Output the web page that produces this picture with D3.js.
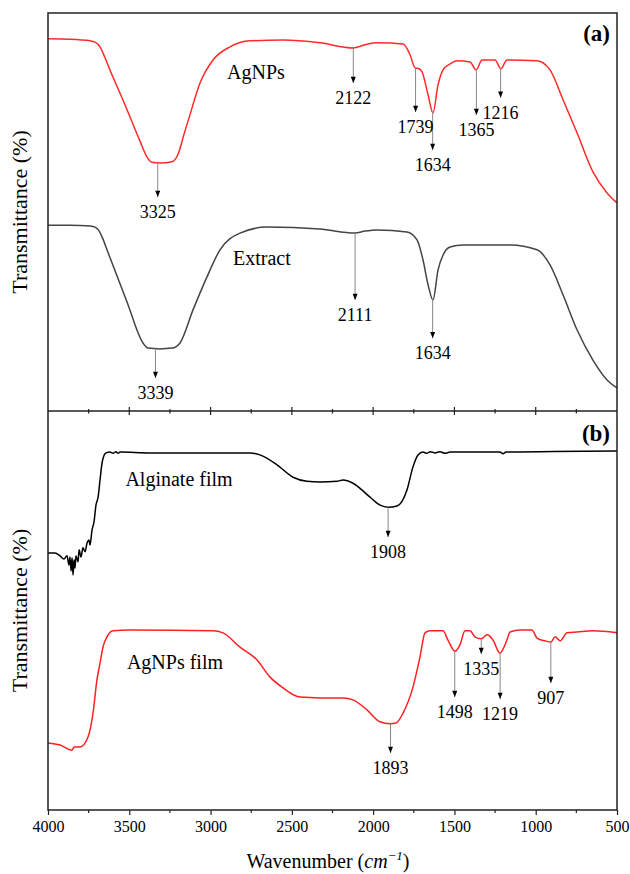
<!DOCTYPE html>
<html>
<head>
<meta charset="utf-8">
<script src="https://cdn.jsdelivr.net/npm/d3@7"></script>
<style>
  body { margin: 0; background: #fff; }
  text { font-family: 'Liberation Serif', 'Times New Roman', serif; }
</style>
</head>
<body>
<script>
// spectra: [wavenumber cm-1, transmittance a.u.]
const agnps = [
    [4000, 93.5], [3865, 93.4], [3740, 93.0], [3711, 92.7], [3680, 91.5], [3650, 88.8],
    [3619, 85.7], [3526, 76.9], [3434, 67.8], [3391, 63.8], [3360, 62.5], [3311, 62.3],
    [3237, 62.6], [3200, 64.5], [3160, 70.0], [3127, 74.4], [3065, 82.4], [2985, 88.2],
    [2880, 91.5], [2757, 93.0], [2554, 93.2], [2327, 92.5], [2124, 91.2], [2050, 92.0],
    [1976, 92.5], [1816, 92.2], [1773, 89.5], [1742, 86.2], [1718, 86.0], [1699, 85.2],
    [1662, 79.4], [1632, 74.9], [1601, 81.9], [1570, 85.7], [1527, 87.2], [1484, 88.0],
    [1404, 87.7], [1367, 85.7], [1330, 88.2], [1250, 88.2], [1214, 86.0], [1177, 88.2],
    [992, 88.0], [912, 85.7], [832, 78.2], [746, 69.9], [648, 60.1], [561, 54.8], [500, 52.3]
]
const extract = [
    [4000, 46.7], [3865, 46.7], [3740, 46.5], [3711, 46.2], [3690, 45.5], [3665, 43.5],
    [3637, 40.5], [3514, 27.4], [3416, 17.1], [3385, 15.8], [3311, 15.6], [3237, 15.8],
    [3188, 17.1], [3108, 25.4], [3022, 33.7], [2942, 40.5], [2819, 44.7], [2653, 46.2],
    [2327, 45.7], [2112, 44.7], [2050, 45.2], [1976, 45.5], [1792, 45.0], [1730, 43.0],
    [1693, 37.9], [1662, 31.7], [1632, 27.9], [1601, 35.4], [1570, 39.2], [1527, 41.2],
    [1447, 41.7], [1158, 41.7], [992, 40.5], [912, 36.7], [832, 29.2], [746, 20.4],
    [648, 12.8], [561, 7.8], [500, 5.8]
]
const alginateFilm = [
    [4000, 64.4], [3957, 64.4], [3926, 63.7], [3902, 62.9], [3883, 63.7], [3871, 61.4],
    [3865, 63.4], [3858, 59.9], [3852, 63.2], [3846, 58.9], [3840, 62.7], [3834, 60.6],
    [3828, 63.7], [3815, 62.2], [3809, 65.2], [3797, 63.4], [3785, 65.7], [3772, 64.7],
    [3760, 66.9], [3748, 67.7], [3742, 66.4], [3729, 70.2], [3717, 72.2], [3705, 76.4],
    [3692, 78.4], [3680, 82.7], [3668, 86.9], [3655, 88.9], [3643, 89.5], [3619, 89.7],
    [3600, 89.4], [3582, 89.8], [3569, 89.4], [3557, 89.7], [3373, 89.5], [3065, 89.5],
    [2757, 89.5], [2696, 89.0], [2591, 86.5], [2493, 83.4], [2407, 82.4], [2327, 82.2],
    [2222, 82.4], [2185, 82.7], [2124, 81.9], [2019, 78.4], [1957, 76.4], [1908, 75.9],
    [1853, 76.2], [1792, 80.2], [1755, 86.0], [1724, 89.0], [1693, 89.7], [1669, 89.4],
    [1650, 89.8], [1619, 89.5], [1589, 89.8], [1558, 89.4], [1527, 89.7], [1220, 89.7],
    [1201, 89.3], [1183, 89.7], [500, 90.0]
]
const agnpsFilm = [
    [4000, 16.8], [3926, 16.3], [3852, 15.0], [3840, 15.8], [3803, 15.8], [3754, 18.3],
    [3723, 24.3], [3699, 32.6], [3680, 36.8], [3662, 40.8], [3637, 43.4], [3600, 44.9],
    [3496, 45.1], [2985, 44.9], [2924, 44.4], [2819, 40.8], [2714, 37.6], [2634, 33.3],
    [2554, 30.6], [2450, 28.3], [2327, 28.1], [2185, 28.1], [2124, 27.6], [2038, 25.1],
    [1958, 22.1], [1896, 21.6], [1859, 21.8], [1816, 24.3], [1755, 30.8], [1712, 38.3],
    [1681, 44.4], [1650, 44.9], [1570, 44.9], [1540, 42.6], [1497, 39.8], [1466, 41.4],
    [1435, 44.9], [1404, 44.9], [1374, 43.4], [1335, 42.9], [1298, 43.9], [1263, 42.6],
    [1220, 39.3], [1177, 42.6], [1158, 44.6], [1097, 45.1], [1023, 45.1], [992, 43.1],
    [943, 42.4], [906, 42.1], [881, 43.4], [850, 42.4], [807, 44.4], [746, 44.6],
    [648, 44.9], [500, 44.4]
]

// peak markers: [wavenumber, arrow end (a.u.), label]
const agnpsPeaks = [[3325, 53.8, '3325'], [2122, 82.4, '2122'], [1739, 75.1, '1739'],
    [1634, 65.6, '1634'], [1365, 74.4, '1365'], [1216, 78.7, '1216']]
const extractPeaks = [[3339, 8.3, '3339'], [2111, 27.9, '2111'], [1634, 18.3, '1634']]
const alginatePeaks = [[1908, 68.4, '1908']]
const agnpsFilmPeaks = [[1893, 14.3, '1893'], [1498, 28.3, '1498'], [1335, 39.1, '1335'],
    [1219, 27.8, '1219'], [907, 31.8, '907']]

const xTicks = [4000, 3500, 3000, 2500, 2000, 1500, 1000, 500]
const xMinorTicks = [3750, 3250, 2750, 2250, 1750, 1250, 750]

const width = 630, height = 874
const margin = {top: 13, right: 13, bottom: 64, left: 48}
const split = 411
const serif = "'Liberation Serif', 'Times New Roman', serif"

const svg = d3.select('body').append('svg')
    .attr('width', width)
    .attr('height', height)
    .attr('font-family', serif)

const x = d3.scaleLinear().domain([4000, 500]).range([margin.left, width - margin.right])
const yA = d3.scaleLinear().domain([0, 100]).range([split, margin.top])
const yB = d3.scaleLinear().domain([0, 100]).range([height - margin.bottom, split])

// arrowhead, drawn along +x so orient=auto turns it down the line
svg.append('defs').append('marker')
    .attr('id', 'head')
    .attr('viewBox', '0 0 10 8')
    .attr('refX', 10).attr('refY', 4)
    .attr('markerWidth', 7).attr('markerHeight', 5)
    .attr('markerUnits', 'userSpaceOnUse')
    .attr('orient', 'auto')
    .append('path')
        .attr('d', 'M0,0 L10,4 L0,8 Z')
        .attr('fill', '#000')

function valueAt(series, w) {
    for (let i = 0; i < series.length - 1; i++) {
        const [w0, t0] = series[i], [w1, t1] = series[i + 1]
        if (w <= w0 && w >= w1) return t0 + (t1 - t0) * (w0 - w) / (w0 - w1)
    }
    return series[series.length - 1][1]
}

function drawSpectrum(series, y, color, peaks, name, nameAt) {
    const line = d3.line()
        .x(d => x(d[0]))
        .y(d => y(d[1]))
        .curve(d3.curveMonotoneX)

    svg.append('path')
        .datum(series)
        .attr('fill', 'none')
        .attr('stroke', color)
        .attr('stroke-width', 1.5)
        .attr('d', line)

    const g = svg.append('g')
    g.selectAll('line')
        .data(peaks)
        .join('line')
            .attr('x1', d => x(d[0]))
            .attr('x2', d => x(d[0]))
            .attr('y1', d => y(valueAt(series, d[0])))
            .attr('y2', d => y(d[1]))
            .attr('stroke', '#888')
            .attr('stroke-width', 1)
            .attr('marker-end', 'url(#head)')
    g.selectAll('text')
        .data(peaks)
        .join('text')
            .attr('x', d => x(d[0]))
            .attr('y', d => y(d[1]) + 21)
            .attr('text-anchor', 'middle')
            .attr('font-size', 18)
            .text(d => d[2])

    svg.append('text')
        .attr('x', x(nameAt[0]))
        .attr('y', y(nameAt[1]))
        .attr('text-anchor', 'middle')
        .attr('font-size', 20)
        .text(name)
}

drawSpectrum(agnps, yA, '#ff2a2a', agnpsPeaks, 'AgNPs', [2721, 83.4])
drawSpectrum(extract, yA, '#444', extractPeaks, 'Extract', [2684, 36.7])
drawSpectrum(alginateFilm, yB, '#000', alginatePeaks, 'Alginate film', [3194, 81.2])
drawSpectrum(agnpsFilm, yB, '#ff2020', agnpsFilmPeaks, 'AgNPs film', [3219, 35.3])

// frame
svg.append('rect')
    .attr('x', margin.left).attr('y', margin.top)
    .attr('width', width - margin.left - margin.right)
    .attr('height', height - margin.top - margin.bottom)
    .attr('fill', 'none')
    .attr('stroke', '#222')
    .attr('stroke-width', 1.5)

// divider between panels, ticks crossing both sides
const divider = svg.append('g')
divider.append('line')
    .attr('x1', margin.left).attr('x2', width - margin.right)
    .attr('y1', split).attr('y2', split)
    .attr('stroke', '#222').attr('stroke-width', 1.5)
divider.selectAll('.major')
    .data(xTicks.slice(1, -1))
    .join('line')
        .attr('class', 'major')
        .attr('x1', d => x(d)).attr('x2', d => x(d))
        .attr('y1', split - 4).attr('y2', split + 4)
        .attr('stroke', '#222').attr('stroke-width', 1.2)
divider.selectAll('.minor')
    .data(xMinorTicks)
    .join('line')
        .attr('class', 'minor')
        .attr('x1', d => x(d)).attr('x2', d => x(d))
        .attr('y1', split - 2).attr('y2', split + 2.5)
        .attr('stroke', '#222').attr('stroke-width', 1.2)

// bottom axis
const bottom = svg.append('g')
    .attr('transform', `translate(0,${height - margin.bottom})`)
    .call(d3.axisBottom(x).tickValues(xTicks).tickSize(5).tickPadding(6).tickFormat(d3.format('d')))
    .attr('font-family', serif)
    .attr('font-size', 16)
bottom.select('.domain').remove()
bottom.selectAll('line').attr('stroke', '#222').attr('stroke-width', 1.2)
bottom.selectAll('text').attr('fill', '#000')
bottom.selectAll('.minor')
    .data(xMinorTicks)
    .join('line')
        .attr('class', 'minor')
        .attr('x1', d => x(d)).attr('x2', d => x(d))
        .attr('y1', 0).attr('y2', 3)
        .attr('stroke', '#222').attr('stroke-width', 1.2)

// axis titles
const xLabel = svg.append('text')
    .attr('x', 328)
    .attr('y', 868)
    .attr('text-anchor', 'middle')
    .attr('font-size', 20)
xLabel.append('tspan').text('Wavenumber (')
xLabel.append('tspan').attr('font-style', 'italic').text('cm')
xLabel.append('tspan').attr('font-style', 'italic').attr('font-size', 13).attr('dy', -8).text('−1')
xLabel.append('tspan').attr('dy', 8).text(')')

for (const cy of [(margin.top + split) / 2, (split + height - margin.bottom) / 2]) {
    svg.append('text')
        .attr('transform', `translate(27,${cy}) rotate(-90)`)
        .attr('text-anchor', 'middle')
        .attr('font-size', 22)
        .text('Transmittance (%)')
}

// panel tags
svg.append('text')
    .attr('x', 610).attr('y', 41)
    .attr('text-anchor', 'end')
    .attr('font-size', 23).attr('font-weight', 'bold')
    .text('(a)')
svg.append('text')
    .attr('x', 610).attr('y', 441)
    .attr('text-anchor', 'end')
    .attr('font-size', 23).attr('font-weight', 'bold')
    .text('(b)')
</script>
</body>
</html>
